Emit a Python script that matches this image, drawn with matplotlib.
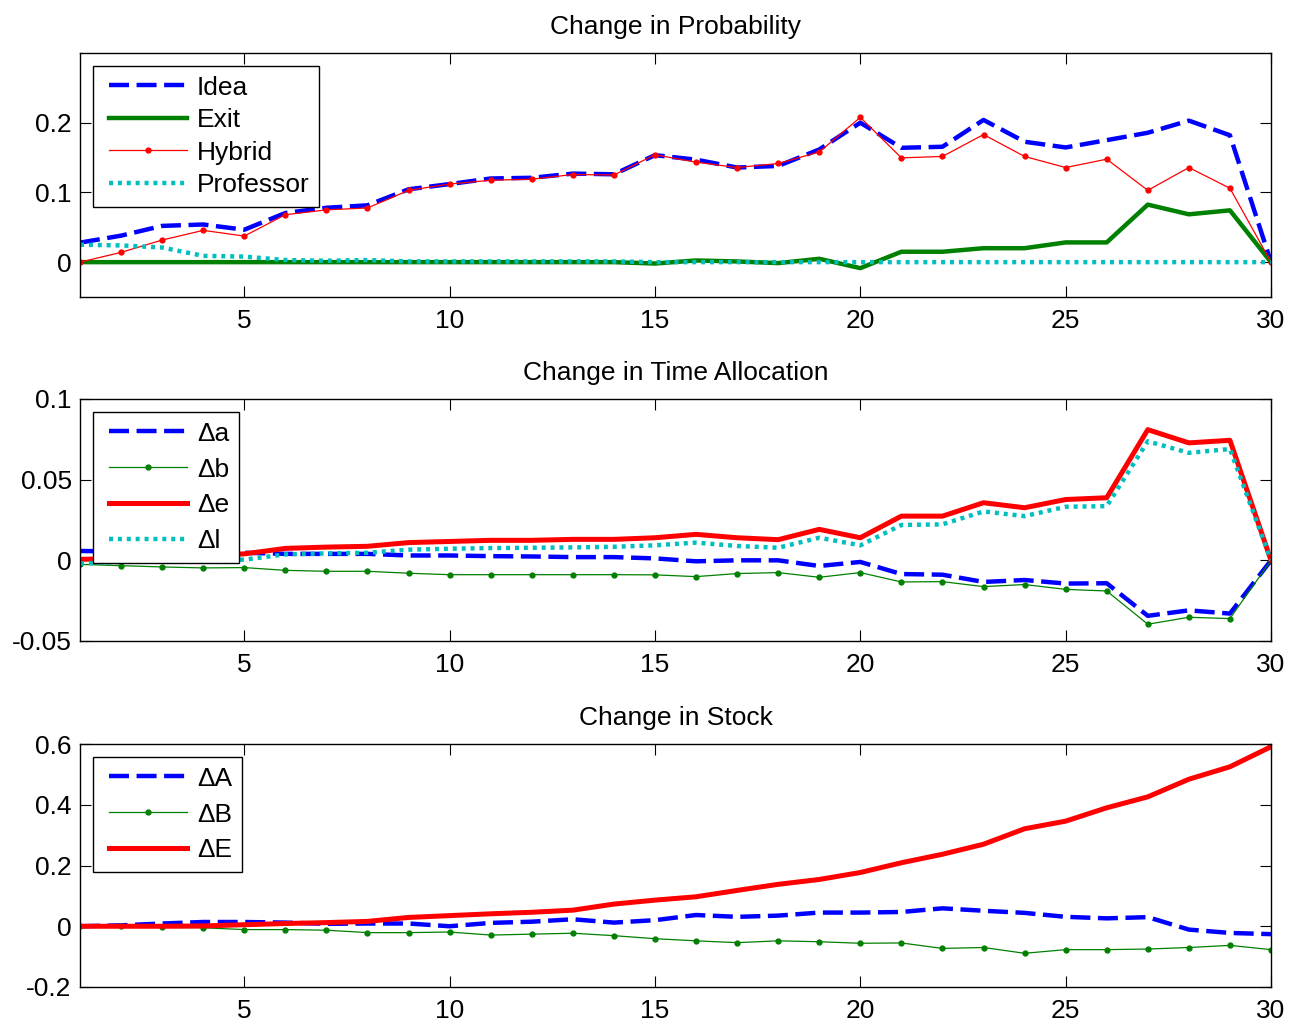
import numpy as np
import matplotlib
matplotlib.use("Agg")
import matplotlib.pyplot as plt
from matplotlib.ticker import FixedLocator, FixedFormatter
from matplotlib.legend_handler import HandlerLine2D
from matplotlib.lines import Line2D

plt.rcParams['font.family'] = ['Liberation Sans', 'DejaVu Sans']
plt.rcParams['axes.unicode_minus'] = False

periods = list(range(1, 31))

# Panel 1: Change in Probability
idea = [0.028, 0.038, 0.052, 0.054, 0.0465, 0.0705, 0.078, 0.0815, 0.1045, 0.112,
        0.120, 0.121, 0.127, 0.126, 0.1535, 0.147, 0.1357, 0.138, 0.1616, 0.200,
        0.164, 0.1655, 0.204, 0.1727, 0.1645, 0.175, 0.1856, 0.203, 0.182, 0.0]
exit_ = [0, 0, 0, 0, 0, 0, 0, 0, 0, 0,
         0, 0, 0, 0, -0.002, 0.0024, 0.001, -0.0014, 0.0048, -0.0086,
         0.0149, 0.0149, 0.020, 0.020, 0.0283, 0.0283, 0.0825, 0.0686, 0.0743, 0.0]
hybrid = [0.0, 0.014, 0.0317, 0.0456, 0.0374, 0.068, 0.075, 0.0777, 0.103, 0.112,
          0.1175, 0.119, 0.1257, 0.125, 0.154, 0.1434, 0.1357, 0.1415, 0.158, 0.2077,
          0.1496, 0.1516, 0.183, 0.1516, 0.1357, 0.1477, 0.103, 0.1357, 0.106, 0.0]
professor = [0.025, 0.024, 0.021, 0.009, 0.008, 0.003, 0.002, 0.003, 0.001, 0.001,
             0.001, 0.001, 0.001, 0.001, 0.0, 0.0, 0.0, 0.0, 0.0, 0.0,
             0.0, 0.0, 0.0, 0.0, 0.0, 0.0, 0.0, 0.0, 0.0, 0.0]

# Panel 2: Change in Time Allocation
d_a = [0.0058, 0.0055, 0.0052, 0.005, 0.0047, 0.004, 0.004, 0.004, 0.003, 0.003,
       0.0026, 0.0024, 0.002, 0.002, 0.0012, -0.0006, 0.0, 0.0, -0.0035, -0.001,
       -0.0085, -0.0089, -0.0134, -0.0122, -0.0144, -0.0142, -0.0344, -0.031, -0.033, 0.0]
d_b = [-0.0025, -0.0033, -0.0041, -0.0047, -0.0045, -0.0062, -0.0068, -0.0068, -0.008, -0.0089,
       -0.0089, -0.0089, -0.0089, -0.0089, -0.009, -0.0101, -0.0082, -0.0076, -0.0105, -0.0076,
       -0.0134, -0.0132, -0.0163, -0.015, -0.018, -0.019, -0.0396, -0.0353, -0.0361, 0.0]
d_e = [0.0006, 0.0012, 0.002, 0.003, 0.004, 0.0074, 0.0082, 0.0087, 0.011, 0.0117,
       0.0124, 0.0124, 0.013, 0.013, 0.014, 0.0161, 0.014, 0.0128, 0.0192, 0.014,
       0.0274, 0.0274, 0.0357, 0.0326, 0.0377, 0.0388, 0.081, 0.0728, 0.0744, 0.0]
d_l = [-0.002, -0.001, 0.0, 0.0006, 0.0004, 0.0037, 0.0043, 0.0047, 0.0066, 0.0072,
       0.0076, 0.0078, 0.008, 0.0084, 0.0093, 0.011, 0.0089, 0.0078, 0.014, 0.0093,
       0.0219, 0.0223, 0.0303, 0.0274, 0.0332, 0.0336, 0.0738, 0.0666, 0.069, 0.0]

# Panel 3: Change in Stock
d_A = [0.0, 0.003, 0.009, 0.014, 0.014, 0.012, 0.008, 0.009, 0.009, 0.0,
       0.011, 0.015, 0.023, 0.012, 0.020, 0.037, 0.031, 0.035, 0.045, 0.045,
       0.047, 0.059, 0.051, 0.044, 0.031, 0.026, 0.030, -0.011, -0.022, -0.026]
d_B = [0.0, 0.0, -0.004, -0.005, -0.011, -0.011, -0.013, -0.021, -0.021, -0.019,
       -0.029, -0.026, -0.023, -0.031, -0.041, -0.048, -0.054, -0.048, -0.051, -0.056,
       -0.055, -0.073, -0.070, -0.089, -0.077, -0.077, -0.075, -0.070, -0.063, -0.077]
d_E = [0.0, 0.0, 0.0, 0.001, 0.005, 0.009, 0.012, 0.016, 0.029, 0.035,
       0.041, 0.046, 0.053, 0.073, 0.086, 0.097, 0.118, 0.138, 0.154, 0.177,
       0.209, 0.237, 0.270, 0.321, 0.346, 0.390, 0.426, 0.484, 0.525, 0.591]

titles = ["Change in Probability", "Change in Time Allocation", "Change in Stock"]
xticks = [5, 10, 15, 20, 25, 30]
xticklabels = ["5", "10", "15", "20", "25", "30"]
yticks1 = [0, 0.1, 0.2]
yticklabels1 = ["0", "0.1", "0.2"]
yticks2 = [-0.05, 0, 0.05, 0.1]
yticklabels2 = ["-0.05", "0", "0.05", "0.1"]
yticks3 = [-0.2, 0, 0.2, 0.4, 0.6]
yticklabels3 = ["-0.2", "0", "0.2", "0.4", "0.6"]

BLUE = (0, 0, 1)
GREEN = (0, 0.5, 0)
RED = (1, 0, 0)
CYAN = (0, 0.75, 0.75)
FS = 19


class PadHandler(HandlerLine2D):
    """Line handler with the handle shifted right inside its box."""
    def create_artists(self, legend, orig_handle, xdescent, ydescent,
                       width, height, fontsize, trans):
        shift = 0.24 * fontsize
        return super().create_artists(legend, orig_handle, xdescent - shift,
                                      ydescent, width, height, fontsize, trans)


fig = plt.figure(figsize=(12.92, 10.24), dpi=100)
W = 1292.0
H = 1024.0


def rect(top, bottom, left=80, right=1271):
    return [left / W, 1 - bottom / H, (right - left) / W, (bottom - top) / H]


ax1 = fig.add_axes(rect(53, 297))
ax2 = fig.add_axes(rect(399, 641))
ax3 = fig.add_axes(rect(744, 987))

dash = (4.5, 1.7)
dot = (0.9, 1.1)

# Panel 1
ax1.plot(periods, idea, color=BLUE, lw=3.2, dashes=dash, label="Idea")
ax1.plot(periods, exit_, color=GREEN, lw=3.2, label="Exit")
ax1.plot(periods, hybrid, color=RED, lw=0.9, marker='o', ms=3.5, label="Hybrid")
ax1.plot(periods, professor, color=CYAN, lw=3.2, dashes=dot, label="Professor")
ax1.set_ylim(-0.05, 0.3)
ax1.yaxis.set_major_locator(FixedLocator(yticks1))
ax1.yaxis.set_major_formatter(FixedFormatter(yticklabels1))

# Panel 2
ax2.plot(periods, d_a, color=BLUE, lw=3.2, dashes=dash, label="Δa")
ax2.plot(periods, d_b, color=GREEN, lw=0.9, marker='o', ms=3.5, label="Δb")
ax2.plot(periods, d_e, color=RED, lw=3.6, label="Δe")
ax2.plot(periods, d_l, color=CYAN, lw=3.2, dashes=dot, label="Δl")
ax2.set_ylim(-0.05, 0.1)
ax2.yaxis.set_major_locator(FixedLocator(yticks2))
ax2.yaxis.set_major_formatter(FixedFormatter(yticklabels2))

# Panel 3
ax3.plot(periods, d_A, color=BLUE, lw=3.2, dashes=dash, label="ΔA")
ax3.plot(periods, d_B, color=GREEN, lw=0.9, marker='o', ms=3.5, label="ΔB")
ax3.plot(periods, d_E, color=RED, lw=3.6, label="ΔE")
ax3.set_ylim(-0.2, 0.6)
ax3.yaxis.set_major_locator(FixedLocator(yticks3))
ax3.yaxis.set_major_formatter(FixedFormatter(yticklabels3))

for ax, t, ls in zip([ax1, ax2, ax3], titles, [0.32, 0.45, 0.45]):
    ax.set_xlim(1, 30)
    ax.xaxis.set_major_locator(FixedLocator(xticks))
    ax.xaxis.set_major_formatter(FixedFormatter(xticklabels))
    ax.tick_params(direction='in', length=8, width=0.8, top=True, right=True,
                   labelsize=FS, colors='black')
    ax.tick_params(axis='x', pad=9)
    ax.tick_params(axis='y', pad=6)
    for s in ax.spines.values():
        s.set_linewidth(1.0)
        s.set_color('black')
    ax.set_title(t, fontsize=FS, pad=14)
    leg = ax.legend(loc='upper left', fontsize=FS, frameon=True, fancybox=False,
                    edgecolor='black', framealpha=1, handlelength=2.95,
                    handletextpad=0.62, labelspacing=ls, borderpad=0.36,
                    borderaxespad=0.5, handler_map={Line2D: PadHandler()})
    leg.get_frame().set_linewidth(1.0)

fig.savefig("out.png", dpi=100)
